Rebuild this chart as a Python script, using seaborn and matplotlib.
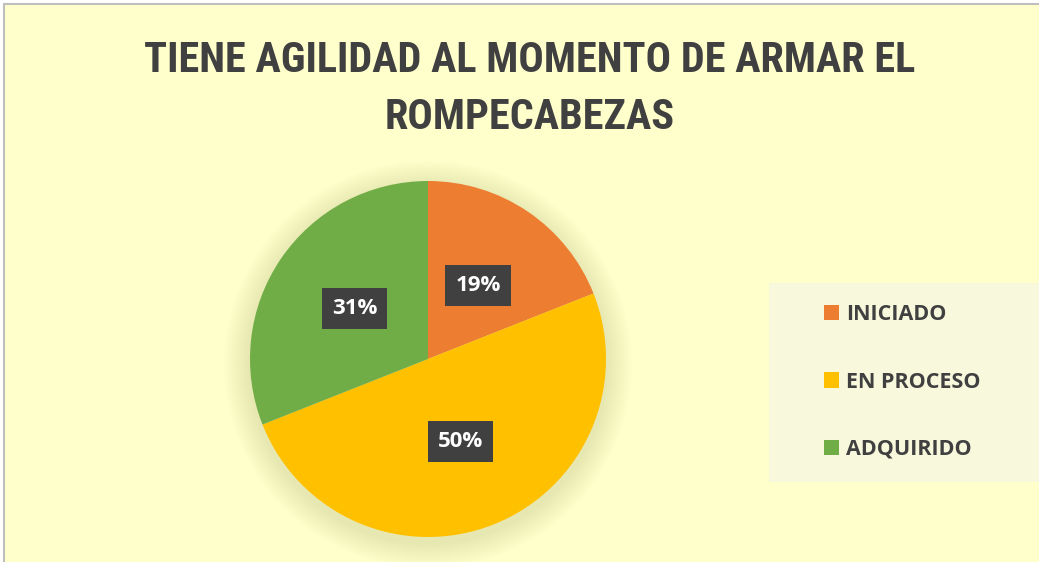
import matplotlib
matplotlib.use("Agg")
import matplotlib.pyplot as plt
import seaborn as sns
from matplotlib import font_manager
from matplotlib.patches import Rectangle, Circle
from matplotlib.lines import Line2D

# ---- data ----
categories = ["INICIADO", "EN PROCESO", "ADQUIRIDO"]
values = [19, 50, 31]
colors = ["#ED7D31", "#FFC000", "#70AD47"]
title_lines = ["TIENE AGILIDAD AL MOMENTO DE ARMAR EL", "ROMPECABEZAS"]

sns.set_theme(style="white")
plt.rcParams["font.family"] = ["Open Sans", "DejaVu Sans"]

available = {f.name for f in font_manager.fontManager.ttflist}
title_family = "DejaVu Sans"
for cand in ["Liberation Sans Narrow", "DejaVu Sans Condensed", "Roboto Condensed",
             "Open Sans Condensed", "Roboto", "Inter"]:
    if cand in available:
        title_family = cand
        break

W, H = 1039, 562
fig = plt.figure(figsize=(W / 100, H / 100), dpi=100)
fig.patch.set_facecolor("white")

# chart area background + border
fig.add_artist(Rectangle((4 / W, 0), 1, 1 - 4 / H, transform=fig.transFigure,
                         facecolor="#FFFFCC", edgecolor="none", zorder=0))
fig.add_artist(Line2D([4 / W, 4 / W], [0, 1 - 4 / H], transform=fig.transFigure,
                      color="#BFBFBF", lw=1.5, zorder=1))
fig.add_artist(Line2D([4 / W, 1], [1 - 4 / H, 1 - 4 / H], transform=fig.transFigure,
                      color="#BFBFBF", lw=1.5, zorder=1))

# legend background box
fig.add_artist(Rectangle((769 / W, 1 - 482 / H), (W - 769) / W, 199 / H,
                         transform=fig.transFigure, facecolor="#F8F8DC",
                         edgecolor="none", zorder=1))

# title (size fitted so first line spans ~770 px like the reference)
title_texts = []
for i, line in enumerate(title_lines):
    t = fig.text(530 / W, 1 - (60 + 57 * i) / H, line, ha="center", va="center",
                 fontsize=30, fontweight="bold", color="#404040",
                 family=[title_family, "DejaVu Sans"])
    title_texts.append(t)
renderer = fig.canvas.get_renderer()
w0 = title_texts[0].get_window_extent(renderer).width
fs = min(34, 30 * 770 / w0)
for t in title_texts:
    t.set_fontsize(fs)

# pie
cx, cy, R = 428, 359, 178
ax = fig.add_axes([(cx - R) / W, (H - cy - R) / H, 2 * R / W, 2 * R / H])
ax.set_facecolor("none")

# soft shadow
for k in range(12):
    ax.add_patch(Circle((0.0, -0.03), 1.0 + 0.012 * (12 - k), facecolor="#C8C890",
                        edgecolor="none", alpha=0.035, zorder=0, clip_on=False))

wedges, texts, autotexts = ax.pie(
    values, colors=colors, startangle=90, counterclock=False, radius=1.0,
    autopct="%1.0f%%", pctdistance=0.5,
    wedgeprops=dict(edgecolor="none", linewidth=0),
    textprops=dict(color="white", fontsize=16, fontweight="bold"),
)
for t in autotexts:
    t.set_zorder(5)
    t.set_bbox(dict(boxstyle="square,pad=0.45", facecolor="#404040",
                    edgecolor="none"))
ax.set_xlim(-1, 1)
ax.set_ylim(-1, 1)
ax.set_aspect("equal")
ax.axis("off")

# legend
leg = fig.legend(wedges, categories, loc="center left",
                 bbox_to_anchor=(805 / W, 1 - 382 / H), frameon=False,
                 handlelength=0.7, handleheight=0.7, handletextpad=0.3,
                 labelspacing=2.15, fontsize=15.5)
for t in leg.get_texts():
    t.set_color("#404040")
    t.set_fontweight("bold")

fig.savefig("out.png", dpi=100, facecolor=fig.get_facecolor())
